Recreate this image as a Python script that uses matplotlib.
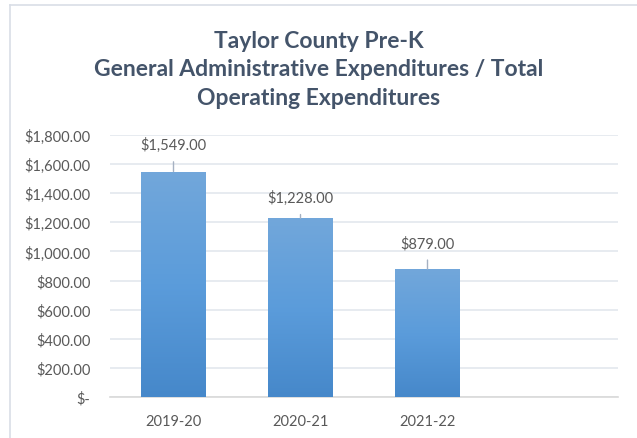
import matplotlib.pyplot as plt
import numpy as np
from matplotlib.patches import Rectangle
from matplotlib.colors import LinearSegmentedColormap

# data
years = ["2019-20", "2020-21", "2021-22", ""]
values = [1549, 1228, 879, None]
label_offsets = [27, 21, 26]   # label height above bar top, px
yticks = list(range(0, 1801, 200))
ytick_labels = ["$-"] + ["${:,.2f}".format(v) for v in yticks[1:]]

plt.rcParams["font.family"] = ["Lato", "DejaVu Sans"]
txt = "#44546A"
tick_col = "#595959"

W, H = 637, 439
fig = plt.figure(figsize=(W / 100, H / 100), dpi=100)

# chart frame (light gray border, open at bottom)
fig.add_artist(plt.Line2D([10 / W, 10 / W], [0, 1 - 6 / H], color="#D9DEE6", lw=1.2))
fig.add_artist(plt.Line2D([10 / W, 1], [1 - 6 / H, 1 - 6 / H], color="#D9DEE6", lw=1.2))

# plot area: x 110..618, y 136..398 (pixels)
ax = fig.add_axes([110 / W, 1 - 398 / H, 508 / W, 262 / H])

cmap = LinearSegmentedColormap.from_list("g", ["#4688CA", "#5B9CDB", "#72A7DA"])
grad = np.linspace(0, 1, 256).reshape(-1, 1)
xs = [i for i, v in enumerate(values) if v is not None]
vals = [v for v in values if v is not None]
bars = ax.bar(xs, vals, width=0.51, color="none", zorder=3)
for b in bars:
    x0, w, h = b.get_x(), b.get_width(), b.get_height()
    im = ax.imshow(grad, extent=[x0, x0 + w, 0, h], origin="lower", cmap=cmap,
                   aspect="auto", zorder=3)
    im.set_clip_path(Rectangle((x0, 0), w, h, transform=ax.transData))
ax.set_xlim(-0.5, len(years) - 0.5)
ax.set_ylim(0, 1800)

for x, v, off in zip(xs, vals, label_offsets):
    ax.annotate("${:,.2f}".format(v), xy=(x, v), xytext=(0, off * 0.72),
                textcoords="offset points", ha="center", va="center",
                fontsize=10.5, color=tick_col,
                arrowprops=dict(arrowstyle="-", color="#A5B1C2", lw=1,
                                shrinkA=5, shrinkB=0))

ax.set_yticks(yticks)
ax.set_yticklabels(ytick_labels)
ax.set_xticks(range(len(years)))
ax.set_xticklabels(years)
ax.tick_params(axis="both", length=0, labelsize=10.5, labelcolor=tick_col)
ax.tick_params(axis="y", pad=14)
ax.tick_params(axis="x", pad=12)
ax.grid(axis="y", color="#E3E7EE", lw=1.2, zorder=0)
for s in ["top", "right", "left"]:
    ax.spines[s].set_visible(False)
ax.spines["bottom"].set_color("#D9D9D9")
ax.spines["bottom"].set_linewidth(1.2)
ax.set_axisbelow(True)

fig.text(0.5, 1 - 70 / H,
         "Taylor County Pre-K\nGeneral Administrative Expenditures / Total\nOperating Expenditures",
         ha="center", va="center", fontsize=16.5, fontweight="bold", color=txt,
         linespacing=1.42)

fig.savefig("out.png", dpi=100, facecolor="white")
